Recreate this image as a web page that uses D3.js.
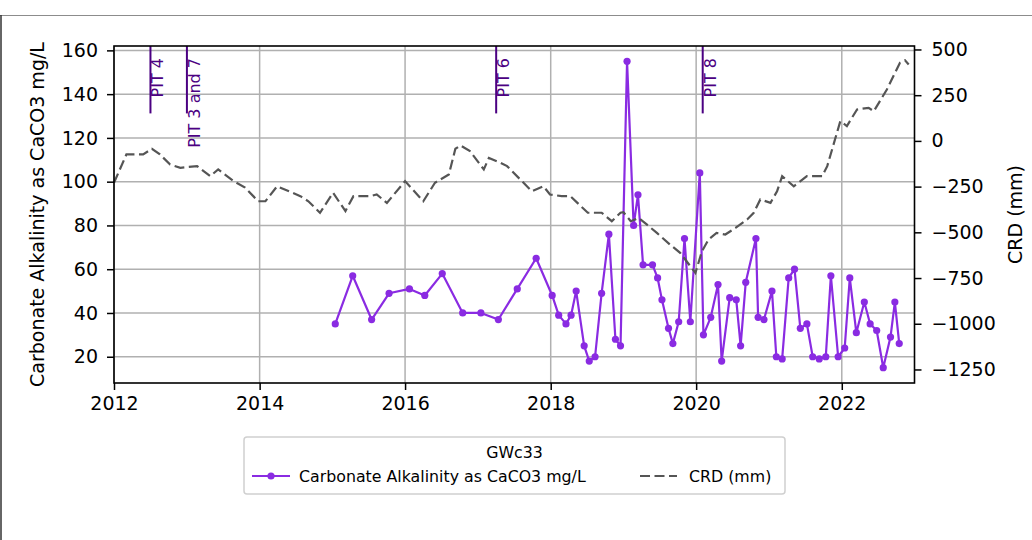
<!DOCTYPE html>
<html>
<head>
<meta charset="utf-8">
<script src="https://cdn.jsdelivr.net/npm/d3@7"></script>
<style>
  body { margin: 0; background: #fff; }
  svg { display: block; font-family: "DejaVu Sans", sans-serif; }
</style>
</head>
<body>
<div id="chart"></div>
<script>
// sample dates as decimal years
const alkDates = [2015.04, 2015.28, 2015.54, 2015.78, 2016.06, 2016.27, 2016.51, 2016.79,
  2017.04, 2017.28, 2017.54, 2017.80, 2018.02, 2018.11, 2018.21, 2018.28, 2018.35, 2018.46,
  2018.53, 2018.61, 2018.70, 2018.80, 2018.89, 2018.96, 2019.05, 2019.14, 2019.20, 2019.27,
  2019.40, 2019.47, 2019.53, 2019.62, 2019.68, 2019.76, 2019.84, 2019.92, 2020.05, 2020.10,
  2020.20, 2020.30, 2020.35, 2020.46, 2020.55, 2020.61, 2020.68, 2020.82, 2020.85, 2020.93,
  2021.04, 2021.10, 2021.18, 2021.27, 2021.35, 2021.43, 2021.52, 2021.60, 2021.69, 2021.78,
  2021.85, 2021.95, 2022.04, 2022.11, 2022.20, 2022.31, 2022.39, 2022.48, 2022.57, 2022.67,
  2022.73, 2022.79];
const alkValues = [35, 57, 37, 49, 51, 48, 58, 40, 40, 37, 51, 65,
  48, 39, 35, 39, 50, 25, 18, 20, 49, 76, 28, 25,
  155, 80, 94, 62, 62, 56, 46, 33, 26, 36, 74, 36,
  104, 30, 38, 53, 18, 47, 46, 25, 54, 74, 38, 37,
  50, 20, 19, 56, 60, 33, 35, 20, 19, 20, 57, 20,
  24, 56, 31, 45, 35, 32, 15, 29, 45, 26];

const crdDates = [2012.00, 2012.17, 2012.40, 2012.52, 2012.63, 2012.77, 2012.91, 2013.14,
  2013.32, 2013.43, 2013.64, 2013.80, 2013.98, 2014.08, 2014.24, 2014.56, 2014.67, 2014.83,
  2015.01, 2015.18, 2015.29, 2015.52, 2015.61, 2015.75, 2016.00, 2016.25, 2016.41, 2016.60,
  2016.69, 2016.76, 2016.89, 2017.08, 2017.15, 2017.31, 2017.40, 2017.74, 2017.90, 2017.99,
  2018.15, 2018.27, 2018.51, 2018.70, 2018.84, 2018.96, 2019.00, 2019.10, 2019.21, 2019.32,
  2019.46, 2019.64, 2019.78, 2019.92, 2019.99, 2020.08, 2020.17, 2020.28, 2020.40, 2020.54,
  2020.70, 2020.79, 2020.88, 2021.02, 2021.11, 2021.18, 2021.34, 2021.52, 2021.73, 2021.80,
  2021.98, 2022.07, 2022.21, 2022.37, 2022.44, 2022.62, 2022.80, 2022.87, 2022.92];
const crdValues = [-229, -74, -74, -43, -74, -129, -147, -138,
  -193, -156, -220, -255, -330, -330, -248, -302, -330, -393,
  -284, -384, -302, -302, -293, -339, -220, -330, -229, -184,
  -43, -25, -56, -156, -93, -120, -138, -275, -248, -293,
  -302, -302, -393, -393, -439, -393, -390, -439, -421, -457,
  -503, -567, -612, -685, -722, -603, -539, -503, -512, -476,
  -430, -393, -320, -339, -275, -193, -248, -193, -193, -138,
  108, 81, 172, 181, 162, 281, 427, 441, 418];

const pitDates = [2012.50, 2013.00, 2017.25, 2020.09];
const pitLabels = ['PIT 4', 'PIT 3 and 7', 'PIT 6', 'PIT 8'];

const leftTicks = [20, 40, 60, 80, 100, 120, 140, 160];
const rightTicks = [-1250, -1000, -750, -500, -250, 0, 250, 500];

const siteName = 'GWc33';
const alkLabel = 'Carbonate Alkalinity as CaCO3 mg/L';
const crdLabel = 'CRD (mm)';

const width = 1032, height = 540;
const m = { left: 114, right: 914.5, top: 46, bottom: 383 };
const purple = '#8a2be2', indigo = '#4b0082', dashGrey = '#555555';

function toDate(y) {
  const yr = Math.floor(y);
  const a = Date.UTC(yr, 0, 1), b = Date.UTC(yr + 1, 0, 1);
  return new Date(a + (y - yr) * (b - a));
}

const alk = alkDates.map((d, i) => ({ date: toDate(d), v: alkValues[i] }));
const crd = crdDates.map((d, i) => ({ date: toDate(d), v: crdValues[i] }));

const svg = d3.select('#chart').append('svg')
  .attr('width', width).attr('height', height);

// figure frame edges
svg.append('line').attr('x1', 0).attr('x2', width).attr('y1', 15.5).attr('y2', 15.5)
  .attr('stroke', '#8c8c8c').attr('stroke-width', 1.2);
svg.append('line').attr('x1', 1).attr('x2', 1).attr('y1', 15).attr('y2', height)
  .attr('stroke', '#333').attr('stroke-width', 1.5);

const x = d3.scaleUtc()
  .domain([new Date(Date.UTC(2012, 0, 1)), new Date(Date.UTC(2023, 0, 1))])
  .range([m.left, m.right]);
const yL = d3.scaleLinear().domain([8, 162]).range([m.bottom, m.top]);
const yR = d3.scaleLinear().domain([-1324, 519]).range([m.bottom, m.top]);

const xTicks = x.ticks(d3.utcYear.every(2));

// grid
const grid = svg.append('g').attr('stroke', '#b0b0b0').attr('stroke-width', 1.5);
grid.selectAll('.gx').data(xTicks).enter().append('line')
  .attr('x1', d => x(d)).attr('x2', d => x(d))
  .attr('y1', m.top).attr('y2', m.bottom);
grid.selectAll('.gy').data(leftTicks).enter().append('line')
  .attr('x1', m.left).attr('x2', m.right)
  .attr('y1', d => yL(d)).attr('y2', d => yL(d));

// pit markers
const pit = svg.append('g');
pitDates.forEach((d, i) => {
  const px = x(toDate(d));
  pit.append('line')
    .attr('x1', px).attr('x2', px)
    .attr('y1', m.top).attr('y2', m.bottom - 0.8 * (m.bottom - m.top))
    .attr('stroke', indigo).attr('stroke-width', 2);
  pit.append('text')
    .attr('transform', `translate(${px + 13},${m.top + 12}) rotate(-90)`)
    .attr('text-anchor', 'end')
    .attr('fill', indigo)
    .style('font-size', '16px')
    .text(pitLabels[i]);
});

// alkalinity series
const lineL = d3.line().x(d => x(d.date)).y(d => yL(d.v));
svg.append('path').datum(alk)
  .attr('d', lineL)
  .attr('fill', 'none').attr('stroke', purple).attr('stroke-width', 2.2)
  .attr('stroke-linejoin', 'round');
svg.append('g').selectAll('circle').data(alk).enter().append('circle')
  .attr('cx', d => x(d.date)).attr('cy', d => yL(d.v)).attr('r', 3.6)
  .attr('fill', purple);

// CRD series
const lineR = d3.line().x(d => x(d.date)).y(d => yR(d.v));
svg.append('path').datum(crd)
  .attr('d', lineR)
  .attr('fill', 'none').attr('stroke', dashGrey).attr('stroke-width', 2.2)
  .attr('stroke-dasharray', '10,4.5');

// axes
const fs = '19px';
const axisX = svg.append('g').attr('transform', `translate(0,${m.bottom})`)
  .call(d3.axisBottom(x).tickValues(xTicks).tickFormat(d3.utcFormat('%Y')).tickSize(7).tickPadding(7));
const axisL = svg.append('g').attr('transform', `translate(${m.left},0)`)
  .call(d3.axisLeft(yL).tickValues(leftTicks).tickFormat(d3.format('d')).tickSize(7).tickPadding(9));
const axisR = svg.append('g').attr('transform', `translate(${m.right},0)`)
  .call(d3.axisRight(yR).tickValues(rightTicks).tickFormat(d3.format('d')).tickSize(7).tickPadding(10));
[axisX, axisL, axisR].forEach(a => {
  a.select('.domain').remove();
  a.selectAll('.tick line').attr('stroke', '#000').attr('stroke-width', 1.5);
  a.selectAll('.tick text').attr('fill', '#000').style('font-size', fs)
    .style('font-family', '"DejaVu Sans", sans-serif');
});

// frame of the axes
svg.append('rect')
  .attr('x', m.left).attr('y', m.top)
  .attr('width', m.right - m.left).attr('height', m.bottom - m.top)
  .attr('fill', 'none').attr('stroke', '#000').attr('stroke-width', 1.6);

svg.append('text')
  .attr('transform', `translate(44,${(m.top + m.bottom) / 2}) rotate(-90)`)
  .attr('text-anchor', 'middle').style('font-size', fs)
  .text(alkLabel);
svg.append('text')
  .attr('transform', `translate(1022,${(m.top + m.bottom) / 2}) rotate(-90)`)
  .attr('text-anchor', 'middle').style('font-size', fs)
  .text(crdLabel);

// legend
const lg = svg.append('g');
lg.append('rect')
  .attr('x', 244).attr('y', 437).attr('width', 541).attr('height', 57)
  .attr('rx', 3).attr('fill', '#fff').attr('stroke', '#d0d0d0').attr('stroke-width', 1.5);
lg.append('text').attr('x', 514.5).attr('y', 458)
  .attr('text-anchor', 'middle').style('font-size', '15.8px').text(siteName);
lg.append('line').attr('x1', 252).attr('x2', 290).attr('y1', 476).attr('y2', 476)
  .attr('stroke', purple).attr('stroke-width', 2.2);
lg.append('circle').attr('cx', 271).attr('cy', 476).attr('r', 3.6).attr('fill', purple);
lg.append('text').attr('x', 299).attr('y', 482).style('font-size', '15.8px').text(alkLabel);
lg.append('line').attr('x1', 640).attr('x2', 677).attr('y1', 476).attr('y2', 476)
  .attr('stroke', dashGrey).attr('stroke-width', 2.2).attr('stroke-dasharray', '10,4.5');
lg.append('text').attr('x', 689).attr('y', 482).style('font-size', '15.8px').text(crdLabel);
</script>
</body>
</html>
